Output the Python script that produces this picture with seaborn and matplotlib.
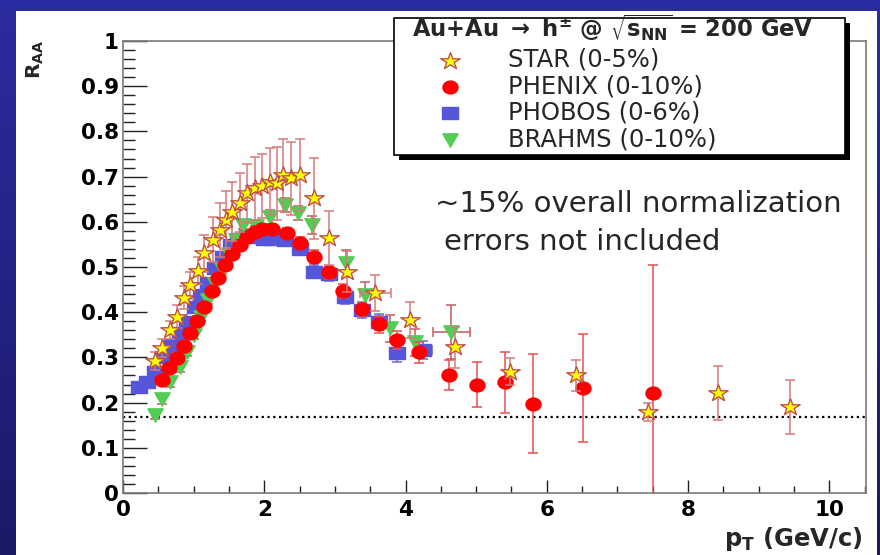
import numpy as np
import pandas as pd
import matplotlib
matplotlib.use("Agg")
import matplotlib.pyplot as plt
from matplotlib.path import Path
from matplotlib.markers import MarkerStyle
from matplotlib.transforms import Affine2D
from matplotlib.patches import Rectangle
from matplotlib.ticker import MultipleLocator, FuncFormatter
import seaborn as sns

# ---------------- data: R_AA of charged hadrons, central Au+Au at 200 GeV ----------------
star_pt = [0.45, 0.55, 0.67, 0.76, 0.86, 0.95, 1.06, 1.15, 1.27, 1.37, 1.46, 1.55, 1.66,
           1.76, 1.87, 1.97, 2.08, 2.18, 2.27, 2.38, 2.50, 2.71, 2.92, 3.17, 3.57, 4.07,
           4.70, 5.48, 6.42, 7.44, 8.43, 9.45]
star_raa = [0.293, 0.320, 0.361, 0.390, 0.432, 0.460, 0.492, 0.530, 0.560, 0.582, 0.604,
            0.622, 0.642, 0.663, 0.674, 0.679, 0.689, 0.685, 0.704, 0.696, 0.704, 0.652,
            0.564, 0.490, 0.442, 0.383, 0.322, 0.268, 0.260, 0.180, 0.221, 0.190]
star_err = [0.02, 0.02, 0.02, 0.025, 0.025, 0.03, 0.03, 0.04, 0.05, 0.06, 0.065, 0.065,
            0.065, 0.065, 0.07, 0.07, 0.075, 0.08, 0.08, 0.08, 0.08, 0.09, 0.06, 0.045,
            0.04, 0.04, 0.045, 0.03, 0.035, 0.02, 0.06, 0.06]
star_xerr = [0.0] * 24 + [0.22] + [0.0] * 7

phenix_pt = [0.55, 0.65, 0.76, 0.86, 0.95, 1.05, 1.15, 1.26, 1.35, 1.45, 1.55, 1.66, 1.76,
             1.87, 1.97, 2.11, 2.32, 2.51, 2.71, 2.92, 3.12, 3.38, 3.63, 3.88, 4.19, 4.61,
             5.01, 5.41, 5.81, 6.51, 7.51]
phenix_raa = [0.250, 0.276, 0.299, 0.326, 0.353, 0.381, 0.412, 0.447, 0.476, 0.504, 0.529,
              0.549, 0.566, 0.578, 0.583, 0.583, 0.575, 0.554, 0.523, 0.488, 0.447, 0.406,
              0.373, 0.338, 0.311, 0.261, 0.240, 0.245, 0.198, 0.232, 0.222]
phenix_err = [0.01, 0.01, 0.01, 0.01, 0.01, 0.01, 0.01, 0.01, 0.01, 0.01, 0.01, 0.01, 0.01,
              0.012, 0.012, 0.012, 0.012, 0.012, 0.015, 0.015, 0.015, 0.015, 0.018, 0.02,
              0.023, 0.034, 0.049, 0.068, 0.11, 0.12, 0.282]

phobos_pt = [0.22, 0.34, 0.45, 0.57, 0.69, 0.81, 0.91, 1.02, 1.11, 1.21, 1.30, 1.41, 1.53,
             1.63, 1.75, 1.87, 1.99, 2.11, 2.30, 2.50, 2.70, 2.92, 3.14, 3.38, 3.63, 3.88,
             4.25]
phobos_raa = [0.234, 0.245, 0.268, 0.300, 0.327, 0.355, 0.379, 0.412, 0.438, 0.465, 0.497,
              0.523, 0.549, 0.561, 0.571, 0.567, 0.563, 0.563, 0.560, 0.539, 0.490, 0.485,
              0.434, 0.405, 0.379, 0.309, 0.316]
phobos_err = [0.01] * 18 + [0.012, 0.012, 0.015, 0.015, 0.015, 0.018, 0.018, 0.02, 0.02]
phobos_xerr = [0.0] * 26 + [0.12]

brahms_pt = [0.45, 0.55, 0.67, 0.80, 0.90, 1.00, 1.10, 1.20, 1.30, 1.40, 1.50, 1.60, 1.70,
             1.89, 2.08, 2.30, 2.48, 2.67, 3.16, 3.43, 3.78, 4.14, 4.65]
brahms_raa = [0.173, 0.208, 0.245, 0.278, 0.312, 0.350, 0.390, 0.428, 0.462, 0.495, 0.528,
              0.560, 0.593, 0.590, 0.611, 0.637, 0.619, 0.593, 0.508, 0.437, 0.364, 0.333,
              0.357]
brahms_err = [0.01] * 13 + [0.015, 0.015, 0.015, 0.015, 0.02, 0.03, 0.03, 0.03, 0.03, 0.06]
brahms_xerr = [0.0] * 22 + [0.26]

labels = ["STAR (0-5%)", "PHENIX (0-10%)", "PHOBOS (0-6%)", "BRAHMS (0-10%)"]
norm_level = 0.168
x_ticks = [0, 2, 4, 6, 8, 10]

# ---------------- style ----------------
sns.set_theme(style="ticks")
plt.rcParams["font.family"] = ["DejaVu Sans"]
plt.rcParams["mathtext.default"] = "regular"

W, H = 880, 555
fig = plt.figure(figsize=(W / 100, H / 100), dpi=100)


def fx(px):
    return px / W


def fy(py):
    return 1 - py / H


# slide background: blue vertical gradient behind a white panel
bg = fig.add_axes([0, 0, 1, 1], zorder=-10)
g = np.linspace(0, 1, 256)[:, None, None]
c_top = np.array([44, 44, 162]) / 255
c_bot = np.array([26, 26, 104]) / 255
bg.imshow(c_top * (1 - g) + c_bot * g, aspect="auto", extent=[0, 1, 0, 1])
bg.axis("off")
fig.add_artist(Rectangle((fx(16), 0), fx(877) - fx(16), fy(11), transform=fig.transFigure,
                         facecolor="white", edgecolor="none", zorder=-5))

ax = fig.add_axes([fx(123), fy(493), fx(866) - fx(123), (493 - 41) / H])
ax.set_facecolor("white")

# slightly widened marker shapes
wide = Affine2D().scale(1.17, 1.0)
m_star = MarkerStyle(Path.unit_regular_star(5, 0.381966).transformed(wide))
m_circ = MarkerStyle(Path.unit_circle().transformed(wide))
m_sq = MarkerStyle(Path.unit_rectangle().transformed(
    Affine2D().translate(-0.5, -0.5).scale(1.25, 1.0)))
m_tri = MarkerStyle(Path([[0, -1], [-1, 1], [1, 1], [0, -1]],
                         [Path.MOVETO, Path.LINETO, Path.LINETO, Path.CLOSEPOLY]).transformed(
    Affine2D().scale(1.0, 0.87)))

ax.axhline(norm_level, color="black", lw=1.6, ls=(0, (1, 1.6)), zorder=1)

series = [
    # pt, raa, yerr, xerr, marker, size, face, edge, ecolor, z, label
    (phobos_pt, phobos_raa, phobos_err, phobos_xerr, m_sq, 117, "#5656DA", "#5656DA", "#6a6ad0", 2, labels[2]),
    (brahms_pt, brahms_raa, brahms_err, brahms_xerr, m_tri, 121, "#52CC52", "#52CC52", "#c85a5a", 3, labels[3]),
    (phenix_pt, phenix_raa, phenix_err, None, m_circ, 117, "#FF0000", "#FF0000", "#e85050", 4, labels[1]),
    (star_pt, star_raa, star_err, star_xerr, m_star, 196, "#FFFF00", "#C0504D", "#d47a7a", 5, labels[0]),
]

for pt, raa, yerr, xerr, mk, s, fc, ec, errc, z, lab in series:
    df = pd.DataFrame({"pT": pt, "RAA": raa})
    ax.errorbar(df["pT"], df["RAA"], yerr=yerr, xerr=xerr, fmt="none", ecolor=errc,
                elinewidth=1.1, capsize=3.5, capthick=1.1, zorder=z)
    sns.scatterplot(data=df, x="pT", y="RAA", marker=mk, s=s, color=fc, edgecolor=ec,
                    linewidth=1.0, ax=ax, zorder=z + 0.1, label=lab, legend=False)

# ---------------- axes ----------------
ax.set_xlim(0, 10.52)
ax.set_ylim(0, 1)
ax.set_xticks(x_ticks)
ax.xaxis.set_minor_locator(MultipleLocator(0.5))
ax.yaxis.set_major_locator(MultipleLocator(0.1))
ax.yaxis.set_minor_locator(MultipleLocator(0.02))
ax.yaxis.set_major_formatter(FuncFormatter(lambda v, _: f"{v:g}"))
ax.xaxis.set_major_formatter(FuncFormatter(lambda v, _: f"{v:g}"))
ax.tick_params(which="both", direction="in", top=False, right=False, color="#222222",
               width=1.0, labelsize=15.5, labelcolor="black")
ax.tick_params(axis="y", which="major", length=17, pad=3)
ax.tick_params(axis="y", which="minor", length=8.5)
ax.tick_params(axis="x", which="major", length=9.5, pad=5)
ax.tick_params(axis="x", which="minor", length=5)
for lbl in ax.get_xticklabels() + ax.get_yticklabels():
    lbl.set_fontweight("bold")
for sp in ax.spines.values():
    sp.set_color("#7a7a7a")
    sp.set_linewidth(1.2)

ax.set_xlabel(r"p$_{T}$ (GeV/c)", fontsize=17.5, fontweight="bold", loc="right")
ax.xaxis.set_label_coords((863 - 123) / 743, (493 - 525) / 452)
ax.set_ylabel(r"R$_{AA}$", fontsize=14.5, fontweight="bold", loc="top")
ax.yaxis.set_label_coords((46 - 123) / 743, (493 - 40) / 452)

# ---------------- legend box with shadow ----------------
fig.add_artist(Rectangle((fx(399), fy(160)), 451 / W, 137 / H, transform=fig.transFigure,
                         facecolor="black", edgecolor="none", zorder=3))
fig.add_artist(Rectangle((fx(394), fy(155)), 451 / W, 137 / H, transform=fig.transFigure,
                         facecolor="white", edgecolor="black", lw=1.2, zorder=3.5))
fig.text(fx(412), fy(37), r"Au+Au $\rightarrow$ h$^{\pm}$ @ $\sqrt{s_{NN}}$ = 200 GeV",
         fontsize=16.3, fontweight="bold", ha="left", va="baseline", zorder=6)

handles, labs = ax.get_legend_handles_labels()
order = [labs.index(l) for l in labels]
fig.legend([handles[i] for i in order], [labs[i] for i in order], loc="upper left",
           bbox_to_anchor=(fx(426), fy(48)), frameon=False, fontsize=17.5,
           handlelength=2.0, handletextpad=1.39, labelspacing=0.10, borderpad=0,
           borderaxespad=0, scatterpoints=1).set_zorder(7)

# ---------------- note ----------------
fig.text(fx(435), fy(212), "~15% overall normalization", fontsize=21, ha="left",
         va="baseline")
fig.text(fx(444), fy(250), "errors not included", fontsize=21, ha="left", va="baseline")

fig.savefig("out.png", dpi=100)
